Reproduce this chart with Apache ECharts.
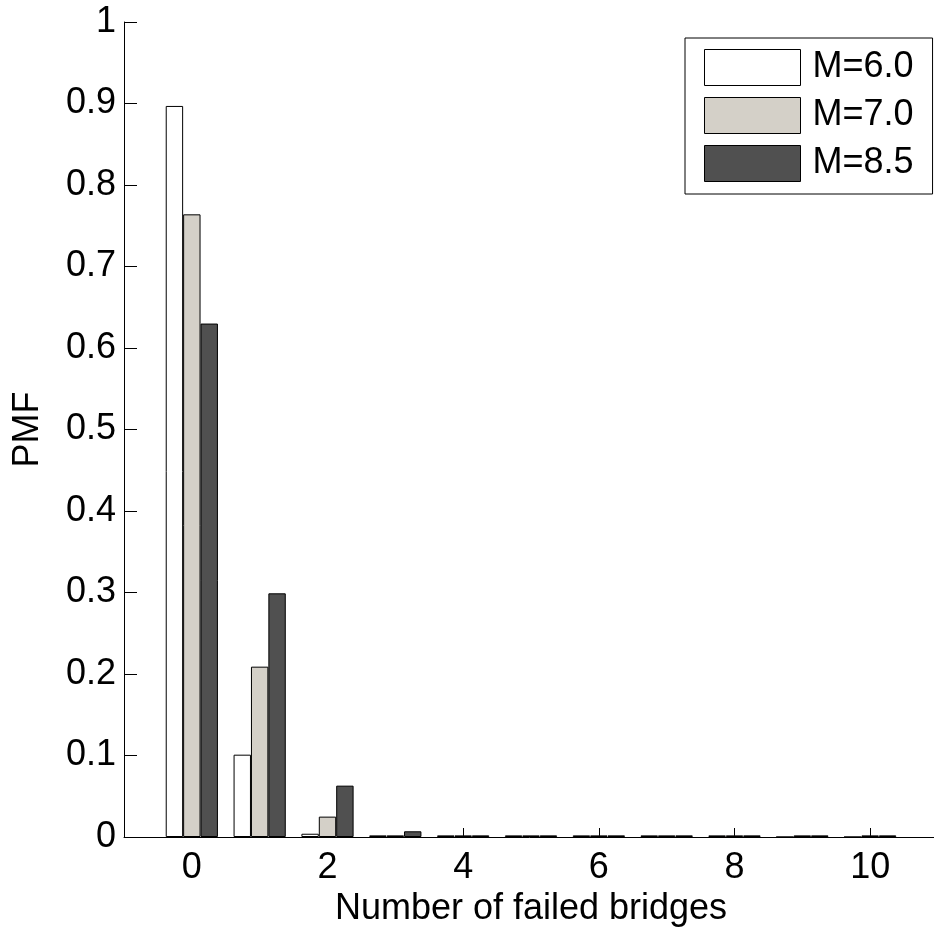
<!DOCTYPE html>
<html>
<head>
<meta charset="utf-8">
<script src="https://cdn.jsdelivr.net/npm/echarts@6/dist/echarts.min.js"></script>
<style>
  html, body { margin: 0; padding: 0; background: #fff; }
  #chart { width: 934px; height: 936px; }
</style>
</head>
<body>
<div id="chart"></div>
<script>
// number of failed bridges (x categories)
const counts = [0, 1, 2, 3, 4, 5, 6, 7, 8, 9, 10]
const xTickLabels = ['0', '2', '4', '6', '8', '10']
const seriesNames = ['M=6.0', 'M=7.0', 'M=8.5']

// PMF values
const pmfM60 = [0.897, 0.101, 0.004, 0.002, 0.002, 0.002, 0.002, 0.002, 0.002, 0, 0]
const pmfM70 = [0.764, 0.209, 0.025, 0.002, 0.002, 0.002, 0.002, 0.002, 0.002, 0.002, 0.002]
const pmfM85 = [0.630, 0.299, 0.063, 0.007, 0.002, 0.002, 0.002, 0.002, 0.002, 0.002, 0.002]

const fillColors = ['#ffffff', '#d4d0c8', '#505050']
const font = 'Arial, "Liberation Sans", sans-serif'

// pad one empty slot on each side so the axis runs from -1 to 11
const cats = ['-1', ...counts.map(String), '11']
const pad = arr => [null, ...arr, null]

const chart = echarts.init(document.getElementById('chart'))

const makeSeries = (name, data, i) => ({
    name,
    type: 'bar',
    data: pad(data),
    barWidth: 17.4,
    barGap: '0%',
    itemStyle: {
        color: fillColors[i],
        borderColor: '#000',
        borderWidth: 1
    },
    emphasis: { disabled: true }
})

chart.setOption({
    animation: false,
    grid: {
        left: 124,
        right: -4,
        top: 22,
        bottom: 99,
        containLabel: false,
        outerBoundsMode: 'none'
    },
    legend: {
        orient: 'vertical',
        left: 685,
        top: 38,
        itemWidth: 96,
        itemHeight: 36,
        itemGap: 11,
        itemStyle: { borderColor: '#000', borderWidth: 1 },
        icon: 'rect',
        padding: [11, 19, 12, 19],
        borderColor: '#000',
        borderWidth: 1,
        backgroundColor: '#fff',
        selectedMode: false,
        formatter: name => '{t|' + name + '}',
        textStyle: {
            fontFamily: font,
            fontSize: 36,
            color: '#000',
            rich: {
                t: { fontFamily: font, fontSize: 36, color: '#000', padding: [0, 0, 0, 7] }
            }
        },
        data: seriesNames
    },
    xAxis: {
        type: 'category',
        data: cats,
        boundaryGap: false,
        name: 'Number of failed bridges',
        nameLocation: 'middle',
        nameGap: 54,
        nameTextStyle: { fontFamily: font, fontSize: 36, color: '#000' },
        axisLine: { lineStyle: { color: '#000', width: 1 } },
        axisTick: {
            inside: true,
            length: 9,
            interval: (idx, val) => xTickLabels.includes(val),
            lineStyle: { color: '#000' }
        },
        axisLabel: {
            interval: (idx, val) => xTickLabels.includes(val),
            margin: 13,
            fontFamily: font,
            fontSize: 36,
            color: '#000'
        },
        splitLine: { show: false }
    },
    yAxis: {
        type: 'value',
        min: 0,
        max: 1,
        interval: 0.1,
        name: 'PMF',
        nameLocation: 'middle',
        nameGap: 78,
        nameTextStyle: { fontFamily: font, fontSize: 36, color: '#000' },
        axisLine: { show: true, lineStyle: { color: '#000', width: 1 } },
        axisTick: { show: true, inside: true, length: 13, lineStyle: { color: '#000' } },
        axisLabel: {
            margin: 8,
            fontFamily: font,
            fontSize: 36,
            color: '#000',
            formatter: v => (Math.round(v * 10) / 10).toString()
        },
        splitLine: { show: false }
    },
    series: [
        makeSeries(seriesNames[0], pmfM60, 0),
        makeSeries(seriesNames[1], pmfM70, 1),
        makeSeries(seriesNames[2], pmfM85, 2)
    ]
})

window.addEventListener('resize', () => chart.resize())
</script>
</body>
</html>
